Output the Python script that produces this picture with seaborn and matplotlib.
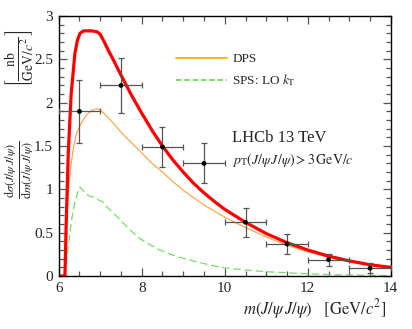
import numpy as np
import pandas as pd
import matplotlib
matplotlib.use('Agg')
import matplotlib.pyplot as plt
from matplotlib.lines import Line2D
from matplotlib.ticker import MultipleLocator, FuncFormatter
import seaborn as sns

# total (SPS + DPS), red thick curve
total_m = [6.0, 6.15, 6.18, 6.23, 6.3, 6.39, 6.45, 6.51, 6.6, 6.7, 6.8, 6.92, 7.0, 7.1, 7.2,
           7.3, 7.5, 7.75, 8.0, 8.25, 8.5, 8.75, 9.0, 9.25, 9.5, 9.75, 10.0, 10.5, 11.0,
           11.5, 12.0, 12.5, 13.0, 13.5, 14.0]
total_y = [0.0, 0.0, 0.6, 1.42, 2.1, 2.57, 2.72, 2.80, 2.83, 2.83, 2.83, 2.82, 2.79, 2.70, 2.60,
           2.51, 2.32, 2.09, 1.88, 1.68, 1.50, 1.34, 1.20, 1.07, 0.96, 0.86, 0.77, 0.62, 0.49,
           0.385, 0.30, 0.23, 0.175, 0.13, 0.10]

# DPS, orange
dps_m = [6.15, 6.2, 6.27, 6.35, 6.43, 6.55, 6.67, 6.8, 6.91, 7.0, 7.25, 7.5, 7.75, 8.0, 8.25,
         8.5, 8.75, 9.0, 9.5, 10.0, 10.5, 11.0, 11.5, 12.0, 12.5, 13.0, 13.5, 14.0]
dps_y = [0.0, 0.75, 1.19, 1.47, 1.65, 1.77, 1.86, 1.91, 1.93, 1.92, 1.80, 1.66, 1.54, 1.42, 1.30,
         1.20, 1.09, 0.99, 0.82, 0.68, 0.56, 0.45, 0.355, 0.28, 0.215, 0.165, 0.125, 0.095]

# SPS LO kT, green dashed
sps_m = [6.15, 6.2, 6.23, 6.3, 6.4, 6.51, 6.6, 6.71, 6.83, 7.04, 7.2, 7.48, 7.7, 7.96, 8.2,
         8.44, 8.7, 8.92, 9.4, 9.89, 10.5, 11.0, 11.8, 12.6, 13.3, 14.0]
sps_y = [0.0, 0.2, 0.34, 0.62, 0.88, 1.03, 0.98, 0.93, 0.91, 0.86, 0.78, 0.65, 0.54, 0.43, 0.36,
         0.30, 0.25, 0.215, 0.155, 0.10, 0.07, 0.05, 0.03, 0.015, 0.01, 0.005]

# LHCb data
data_m = [6.5, 7.5, 8.5, 9.5, 10.5, 11.5, 12.5, 13.5]
data_y = [1.90, 2.20, 1.49, 1.30, 0.62, 0.37, 0.19, 0.09]
data_yerr = [0.36, 0.32, 0.23, 0.23, 0.165, 0.12, 0.07, 0.055]
data_xerr = [0.5, 0.5, 0.5, 0.5, 0.5, 0.5, 0.5, 0.5]

sns.set_style('ticks')
plt.rcParams['font.family'] = ['Liberation Serif', 'DejaVu Serif']
plt.rcParams['mathtext.fontset'] = 'stix'

fig = plt.figure(figsize=(4.12, 3.29), dpi=100)
ax = fig.add_axes([0.1425, 0.161, 0.806, 0.790])

sns.lineplot(data=pd.DataFrame({'m': sps_m, 'y': sps_y}), x='m', y='y', ax=ax,
             color='#77dd66', lw=0.9, linestyle=(0, (6, 3)))
sns.lineplot(data=pd.DataFrame({'m': dps_m, 'y': dps_y}), x='m', y='y', ax=ax,
             color='#ffa64d', lw=0.9)
sns.lineplot(data=pd.DataFrame({'m': total_m, 'y': total_y}), x='m', y='y', ax=ax,
             color='#ff0000', lw=2.3)

ax.errorbar(data_m, data_y, xerr=data_xerr, yerr=data_yerr, fmt='none',
            ecolor='#555555', elinewidth=0.9, capsize=2.2, capthick=0.9, zorder=4)
sns.scatterplot(x=data_m, y=data_y, ax=ax, color='black', s=12, edgecolor='none', zorder=5)

ax.set_xlim(6, 14)
ax.set_ylim(0, 3)
ax.xaxis.set_major_locator(MultipleLocator(2))
ax.xaxis.set_minor_locator(MultipleLocator(0.5))
ax.yaxis.set_major_locator(MultipleLocator(0.5))
ax.yaxis.set_minor_locator(MultipleLocator(0.1))
ax.yaxis.set_major_formatter(FuncFormatter(lambda v, p: f'{v:g}'))
ax.tick_params(which='both', direction='in', top=True, right=True, color='#555555',
               labelsize=11, pad=4)
ax.tick_params(which='major', length=6, width=0.9)
ax.tick_params(which='minor', length=3.5, width=0.9)
for s in ax.spines.values():
    s.set_linewidth(1.0)
    s.set_color('black')
ax.set_xlabel('')
ax.set_ylabel('')

# axis titles
ax.text(0.985, -0.125, r'$m(J/\psi\,J/\psi)\quad\left[\mathrm{GeV}/c^2\right]$',
        transform=ax.transAxes, fontsize=12, ha='right', va='center')
fig.text(0.047, 1 - 170 / 329, r'$\frac{\mathrm{d}\sigma(J/\psi\,J/\psi)}{\mathrm{d}m(J/\psi\,J/\psi)}$',
         rotation=90, fontsize=12.5, ha='center', va='center')
fig.text(0.047, 1 - 58 / 329, r'$\left[\frac{\mathrm{nb}}{\mathrm{GeV}/c^2}\right]$',
         rotation=90, fontsize=14, ha='center', va='center')

handles = [Line2D([], [], color='#ffb000', lw=1.3),
           Line2D([], [], color='#66dd55', lw=1.3, linestyle=(0, (3, 1.6)))]
ax.legend(handles, ['DPS', r'SPS: LO $k_{\mathrm{T}}$'], loc='upper left',
          bbox_to_anchor=(0.352, 0.858), frameon=False, fontsize=9.5,
          handlelength=3.9, handletextpad=0.4, labelspacing=0.55, borderpad=0,
          borderaxespad=0)

ax.text(0.522, 0.515, 'LHCb 13 TeV', transform=ax.transAxes, fontsize=12)
ax.text(0.522, 0.43, r'$p_{\mathrm{T}}(J/\psi\,J/\psi) > 3\,\mathrm{GeV}/c$',
        transform=ax.transAxes, fontsize=10)

fig.savefig('out.png', dpi=100)
